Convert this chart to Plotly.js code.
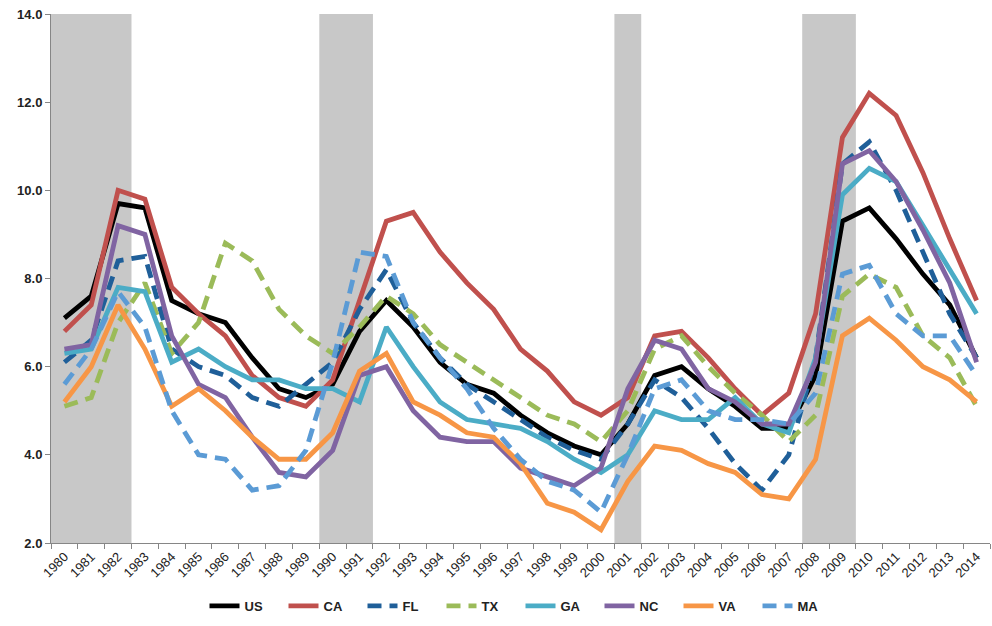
<!DOCTYPE html>
<html>
<head>
<meta charset="utf-8">
<script src="https://cdn.plot.ly/plotly-3.0.1.min.js"></script>
<style>
  html, body { margin: 0; padding: 0; background: #fff; }
  #chart { width: 992px; height: 626px; }
</style>
</head>
<body>
<div id="chart"></div>
<script>
const years = ["1980","1981","1982","1983","1984","1985","1986","1987","1988","1989",
  "1990","1991","1992","1993","1994","1995","1996","1997","1998","1999",
  "2000","2001","2002","2003","2004","2005","2006","2007","2008","2009",
  "2010","2011","2012","2013","2014"];

const US = [7.1,7.6,9.7,9.6,7.5,7.2,7.0,6.2,5.5,5.3,5.6,6.8,7.5,6.9,6.1,5.6,5.4,4.9,4.5,4.2,4.0,4.7,5.8,6.0,5.5,5.1,4.6,4.6,5.8,9.3,9.6,8.9,8.1,7.4,6.2];
const CA = [6.8,7.4,10.0,9.8,7.8,7.2,6.7,5.8,5.3,5.1,5.7,7.5,9.3,9.5,8.6,7.9,7.3,6.4,5.9,5.2,4.9,5.3,6.7,6.8,6.2,5.5,4.9,5.4,7.2,11.2,12.2,11.7,10.4,8.9,7.5];
const FL = [6.1,6.6,8.4,8.5,6.4,6.0,5.8,5.3,5.1,5.6,6.1,7.3,8.2,7.0,6.2,5.6,5.2,4.8,4.4,4.1,3.9,4.7,5.7,5.3,4.6,3.8,3.2,4.0,6.2,10.6,11.1,10.0,8.6,7.2,6.2];
const TX = [5.1,5.3,7.0,7.9,6.3,7.0,8.8,8.4,7.3,6.7,6.3,6.9,7.6,7.2,6.5,6.1,5.7,5.3,4.9,4.7,4.3,5.0,6.4,6.7,6.0,5.4,4.9,4.3,4.9,7.6,8.1,7.8,6.7,6.2,5.1];
const GA = [6.3,6.4,7.8,7.7,6.1,6.4,6.0,5.7,5.7,5.5,5.5,5.2,6.9,6.0,5.2,4.8,4.7,4.6,4.3,3.9,3.6,4.0,5.0,4.8,4.8,5.3,4.7,4.5,6.2,9.9,10.5,10.2,9.2,8.2,7.2];
const NC = [6.4,6.5,9.2,9.0,6.7,5.6,5.3,4.4,3.6,3.5,4.1,5.8,6.0,5.0,4.4,4.3,4.3,3.7,3.5,3.3,3.7,5.5,6.6,6.4,5.5,5.2,4.7,4.7,6.1,10.6,10.9,10.2,9.1,7.9,6.1];
const VA = [5.2,6.0,7.4,6.4,5.1,5.5,5.0,4.4,3.9,3.9,4.5,5.9,6.3,5.2,4.9,4.5,4.4,3.8,2.9,2.7,2.3,3.4,4.2,4.1,3.8,3.6,3.1,3.0,3.9,6.7,7.1,6.6,6.0,5.7,5.2];
const MA = [5.6,6.4,7.7,6.9,5.0,4.0,3.9,3.2,3.3,4.1,6.1,8.6,8.5,7.0,6.2,5.5,4.6,3.9,3.4,3.2,2.7,4.0,5.5,5.7,5.0,4.8,4.8,4.7,5.4,8.1,8.3,7.2,6.7,6.7,5.8];

const seriesNames = ["US","CA","FL","TX","GA","NC","VA","MA"];
const seriesValues = [US, CA, FL, TX, GA, NC, VA, MA];
const seriesColors = ["#000000","#C0504D","#1F5F99","#9BBB59","#4BACC6","#8064A2","#F79646","#5B9BD5"];
const seriesDash = ["solid","solid","14px,8px","14px,8px","solid","solid","solid","14px,8px"];

const recessionStart = ["1980","1990","2001","2008"];
const recessionEnd   = ["1982","1991","2001","2009"];

const traces = seriesNames.map((name, i) => ({
  type: "scatter",
  mode: "lines",
  name: name,
  x: years,
  y: seriesValues[i],
  line: { color: seriesColors[i], width: 4.8, dash: seriesDash[i] }
}));

const shapes = recessionStart.map((s, i) => ({
  type: "rect",
  xref: "x", yref: "paper",
  x0: years.indexOf(s) - 0.5,
  x1: years.indexOf(recessionEnd[i]) + 0.5,
  y0: 0, y1: 1,
  fillcolor: "#C8C8C8",
  line: { width: 0 },
  layer: "below"
}));

const layout = {
  width: 992, height: 626,
  margin: { l: 51, r: 2, t: 14, b: 83 },
  paper_bgcolor: "#ffffff",
  plot_bgcolor: "#ffffff",
  font: { family: "Liberation Sans, Arial, sans-serif", color: "#222", size: 12 },
  showlegend: true,
  legend: {
    orientation: "h",
    x: 0.5, xanchor: "center",
    y: -0.119, yanchor: "middle",
    entrywidth: 34, entrywidthmode: "pixels",
    font: { size: 13, color: "#222", weight: "bold", family: "Liberation Sans Narrow, Liberation Sans, Arial, sans-serif" },
    itemwidth: 30
  },
  xaxis: {
    type: "category",
    range: [-0.5, 34.5],
    tickson: "boundaries",
    ticks: "outside",
    ticklen: 5,
    tickcolor: "#868686",
    tickangle: -45,
    tickfont: { size: 13, color: "#222" },
    showline: true,
    linecolor: "#868686",
    linewidth: 1,
    showgrid: false,
    zeroline: false
  },
  yaxis: {
    range: [2, 14],
    dtick: 2,
    tick0: 2,
    tickformat: ".1f",
    ticks: "outside",
    ticklen: 5,
    tickcolor: "#868686",
    tickfont: { size: 13, color: "#222", weight: "bold" },
    showline: true,
    linecolor: "#868686",
    linewidth: 1,
    showgrid: false,
    zeroline: false
  },
  shapes: shapes
};

Plotly.newPlot("chart", traces, layout, { displayModeBar: false, staticPlot: true });
</script>
</body>
</html>
